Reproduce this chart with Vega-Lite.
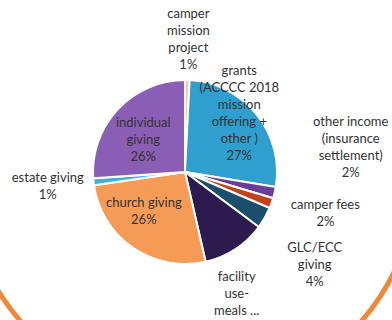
{
  "$schema": "https://vega.github.io/schema/vega-lite/v6.json",
  "autosize": "none",
  "width": 370,
  "height": 296,
  "padding": {"left": 0, "top": 24, "right": 22, "bottom": 0},
  "background": "white",
  "config": {
    "view": {"stroke": null},
    "text": {"font": "Lato", "fontSize": 13, "fill": "#333333", "lineBreak": "\n", "lineHeight": 17, "align": "center", "baseline": "middle"}
  },
  "data": {
    "values": [
      {"idx": 1, "cat": "camper mission project", "value": 0.8, "label": "camper\nmission\nproject\n1%"},
      {"idx": 2, "cat": "grants", "value": 26.8, "label": "grants\n(ACCCC 2018\nmission\noffering +\nother )\n27%"},
      {"idx": 3, "cat": "other income", "value": 2.0, "label": "other income\n(insurance\nsettlement)\n2%"},
      {"idx": 4, "cat": "camper fees", "value": 1.8, "label": "camper fees\n2%"},
      {"idx": 5, "cat": "GLC/ECC giving", "value": 3.8, "label": "GLC/ECC\ngiving\n4%"},
      {"idx": 6, "cat": "facility use-meals", "value": 11.2, "label": "facility\nuse-\nmeals ..."},
      {"idx": 7, "cat": "church giving", "value": 26.3, "label": "church giving\n26%"},
      {"idx": 8, "cat": "estate giving", "value": 1.2, "label": "estate giving\n1%"},
      {"idx": 9, "cat": "individual giving", "value": 26.1, "label": "individual\ngiving\n26%"}
    ]
  },
  "encoding": {
    "theta": {"field": "value", "type": "quantitative", "stack": true},
    "order": {"field": "idx", "type": "quantitative"}
  },
  "layer": [
    {
      "data": {"values": [{"part": "border"}]},
      "mark": {"type": "arc", "theta": 1.5708, "theta2": 4.7124, "radius": 229, "radius2": 224, "xOffset": 6, "fill": "#F0883A"},
      "encoding": {"theta": null, "order": null}
    },
    {
      "mark": {"type": "arc", "outerRadius": 92, "stroke": "white", "strokeWidth": 2},
      "encoding": {
        "color": {
          "field": "cat", "type": "nominal", "legend": null,
          "scale": {
            "domain": ["camper mission project", "grants", "other income", "camper fees", "GLC/ECC giving", "facility use-meals", "church giving", "estate giving", "individual giving"],
            "range": ["#F8C9A0", "#2E9FCF", "#6A3D9A", "#C4411B", "#1C4F6B", "#2D1A4E", "#F59B55", "#3FB0D8", "#8B5EB5"]
          }
        }
      }
    },
    {"mark": {"type": "text", "radius": 133, "dy": -25.5}, "encoding": {"text": {"condition": {"test": "datum.idx === 1", "field": "label"}, "value": ""}}},
    {"mark": {"type": "text", "radius": 80, "dx": -8, "dy": -50.5}, "encoding": {"text": {"condition": {"test": "datum.idx === 2", "field": "label"}, "value": ""}}},
    {"mark": {"type": "text", "radius": 168, "dx": 2, "dy": -87.5}, "encoding": {"text": {"condition": {"test": "datum.idx === 3", "field": "label"}, "value": ""}}},
    {"mark": {"type": "text", "radius": 146, "dx": 3, "dy": -16.5}, "encoding": {"text": {"condition": {"test": "datum.idx === 4", "field": "label"}, "value": ""}}},
    {"mark": {"type": "text", "radius": 160, "dx": -9, "dy": -4}, "encoding": {"text": {"condition": {"test": "datum.idx === 5", "field": "label"}, "value": ""}}},
    {"mark": {"type": "text", "radius": 133, "dx": -21, "dy": -6}, "encoding": {"text": {"condition": {"test": "datum.idx === 6", "field": "label"}, "value": ""}}},
    {"mark": {"type": "text", "radius": 57, "dx": -9, "dy": -16.5}, "encoding": {"text": {"condition": {"test": "datum.idx === 7", "field": "label"}, "value": ""}}},
    {"mark": {"type": "text", "radius": 138, "dy": -8.5}, "encoding": {"text": {"condition": {"test": "datum.idx === 8", "field": "label"}, "value": ""}}},
    {"mark": {"type": "text", "radius": 53, "dx": -3, "dy": -13}, "encoding": {"text": {"condition": {"test": "datum.idx === 9", "field": "label"}, "value": ""}}}
  ]
}
